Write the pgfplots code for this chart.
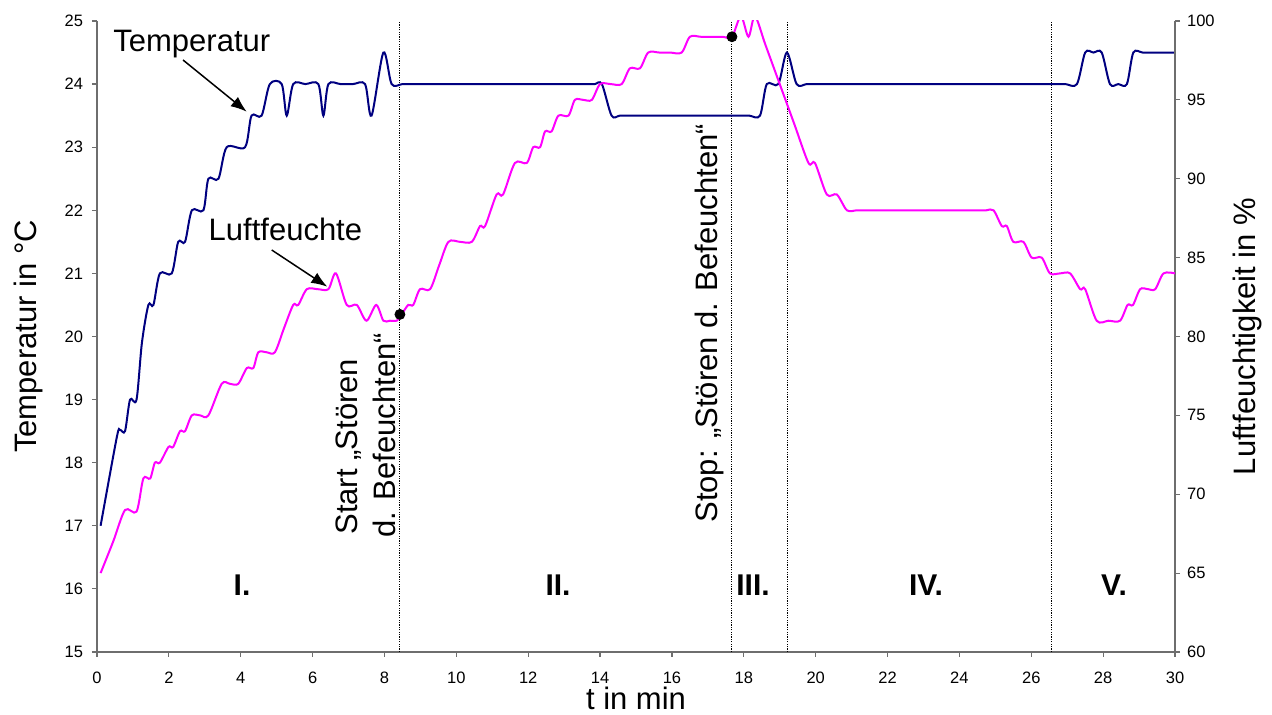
\documentclass[border=0pt]{standalone}
\usepackage{fontspec}
\setmainfont{Liberation Sans}
\usepackage{pgfplots}
\pgfplotsset{compat=1.18}
\usetikzlibrary{arrows.meta}
\definecolor{tblue}{RGB}{0,0,128}
\definecolor{hmag}{RGB}{255,0,255}
\definecolor{axgray}{RGB}{110,110,110}

\begin{document}
\begin{tikzpicture}
\useasboundingbox (-48.5pt,-31.5pt) rectangle (587.5pt,326pt);
\pgfplotsset{
  common/.style={
    scale only axis, width=539pt, height=315.5pt,
    at={(0pt,0pt)}, anchor=south west,
    xmin=0, xmax=30,
    tick align=outside, major tick length=2.5pt,
    tick style={axgray, line width=0.6pt},
    axis line style={axgray, line width=0.75pt},
    tick label style={font=\fontsize{8.25}{9}\selectfont},
    label style={font=\fontsize{15.5}{18}\selectfont},
    /pgf/number format/assume math mode=true,
    clip=true,
  }
}
\begin{axis}[common,
  axis x line*=bottom, axis y line*=left,
  ymin=15, ymax=25,
  xtick={0,2,...,30}, ytick={15,...,25},
  xticklabel style={yshift=-4pt},
  yticklabel style={xshift=-1pt},
  xlabel={t in min}, ylabel={Temperatur in °C},
  xlabel style={at={(axis description cs:0.5,-0.0919)}, anchor=base},
  ylabel style={at={(axis description cs:-0.0557,0.5)}, anchor=base},
]
\addplot[black, dash pattern=on 0.6pt off 0.6pt, line width=0.5pt] coordinates {(8.43,15) (8.43,25)};
\addplot[black, dash pattern=on 0.6pt off 0.6pt, line width=0.5pt] coordinates {(17.67,15) (17.67,25)};
\addplot[black, dash pattern=on 0.6pt off 0.6pt, line width=0.5pt] coordinates {(19.21,15) (19.21,25)};
\addplot[black, dash pattern=on 0.6pt off 0.6pt, line width=0.5pt] coordinates {(26.57,15) (26.57,25)};
\addplot[tblue, line width=1pt, smooth, tension=0.5] coordinates {
(0.10,17.00) (0.55,18.40) (0.64,18.52) (0.78,18.50) (0.92,19.00) (1.10,19.00)
(1.25,19.90) (1.43,20.50) (1.57,20.50) (1.75,21.00) (2.08,21.00) (2.26,21.50)
(2.45,21.50) (2.64,22.00) (2.96,22.00) (3.10,22.50) (3.38,22.50) (3.61,23.00)
(4.12,23.00) (4.30,23.50) (4.58,23.50) (4.81,24.00) (5.14,24.00) (5.28,23.50)
(5.46,24.00) (5.80,24.00) (6.16,24.00) (6.30,23.50) (6.44,24.00) (6.78,24.00)
(7.12,24.00) (7.46,24.00) (7.64,23.50) (7.97,24.50) (8.20,24.00)
(8.50,24.00) (8.80,24.00) (9.10,24.00) (9.40,24.00) (9.70,24.00) (10.00,24.00)
(10.30,24.00) (10.60,24.00) (10.90,24.00) (11.20,24.00) (11.50,24.00) (11.80,24.00)
(12.10,24.00) (12.40,24.00) (12.70,24.00) (13.00,24.00) (13.30,24.00) (13.60,24.00)
(13.85,24.00) (14.05,24.00) (14.32,23.50) (14.55,23.50)
(14.85,23.50) (15.15,23.50) (15.45,23.50) (15.75,23.50) (16.05,23.50) (16.35,23.50)
(16.65,23.50) (16.95,23.50) (17.25,23.50) (17.55,23.50) (17.85,23.50) (18.15,23.50)
(18.45,23.50) (18.64,24.00) (18.96,24.00) (19.20,24.50) (19.47,24.00) (19.75,24.00)
(20.05,24.00) (20.35,24.00) (20.65,24.00) (20.95,24.00) (21.25,24.00) (21.55,24.00)
(21.85,24.00) (22.15,24.00) (22.45,24.00) (22.75,24.00) (23.05,24.00) (23.35,24.00)
(23.65,24.00) (23.95,24.00) (24.25,24.00) (24.55,24.00) (24.85,24.00) (25.15,24.00)
(25.45,24.00) (25.75,24.00) (26.05,24.00) (26.35,24.00) (26.65,24.00) (26.95,24.00)
(27.27,24.00) (27.50,24.50) (27.73,24.50) (27.96,24.50) (28.19,24.00) (28.42,24.00)
(28.66,24.00) (28.84,24.50) (29.10,24.50) (29.40,24.50) (29.70,24.50) (30.00,24.50)
};
\end{axis}
\begin{axis}[common,
  axis x line=none, axis y line*=right,
  ymin=60, ymax=100, ytick={60,65,...,100},
  ylabel={Luftfeuchtigkeit in \%},
  ylabel style={at={(axis description cs:1.0742,0.5)}, anchor=base},
]
\addplot[hmag, line width=1pt, smooth, tension=0.5] coordinates {
(0.10,65.0) (0.45,67.0) (0.78,69.0) (1.10,68.9) (1.29,71.0) (1.48,71.0) (1.61,72.0)
(1.75,72.0) (1.99,73.0) (2.12,73.0) (2.31,74.0) (2.45,74.0) (2.64,75.0)
(2.87,75.0) (3.10,75.0) (3.47,77.0) (3.70,77.0) (3.93,77.0) (4.17,78.0) (4.35,78.0) (4.49,79.0)
(4.72,79.0) (4.95,79.0) (5.20,80.5) (5.46,82.0) (5.60,82.0) (5.84,83.0) (6.14,83.0) (6.44,83.0) (6.65,84.0)
(6.95,82.0) (7.23,82.0) (7.50,81.0) (7.77,82.0) (7.97,81.0) (8.15,81.0) (8.34,81.0)
(8.45,81.3) (8.66,82.0) (8.80,82.0) (8.99,83.0) (9.27,83.0) (9.52,84.5) (9.78,86.0)
(10.10,86.0) (10.43,86.0) (10.66,87.0) (10.80,87.0) (11.12,89.0) (11.30,89.0) (11.63,91.0)
(11.96,91.0) (12.14,92.0) (12.33,92.0) (12.47,93.0) (12.65,93.0) (12.84,94.0)
(13.12,94.0) (13.30,95.0) (13.53,95.0) (13.77,95.0) (14.00,96.0) (14.30,96.0) (14.60,96.0) (14.83,97.0)
(15.11,97.0) (15.34,98.0) (15.65,98.0) (15.95,98.0) (16.27,98.0) (16.50,99.0)
(16.80,99.0) (17.10,99.0) (17.40,99.0) (17.67,99.0) (17.92,100.3)
(18.13,99.0) (18.31,100.3) (18.60,98.5) (19.00,96.0) (19.40,93.5) (19.80,91.0) (19.98,91.0) (20.31,89.0)
(20.59,89.0) (20.87,88.0) (21.15,88.0) (21.45,88.0) (21.75,88.0) (22.05,88.0)
(22.35,88.0) (22.65,88.0) (22.95,88.0) (23.25,88.0) (23.55,88.0) (23.85,88.0)
(24.15,88.0) (24.45,88.0) (24.75,88.0) (24.95,88.0) (25.18,87.0)
(25.32,87.0) (25.50,86.0) (25.78,86.0) (26.01,85.0) (26.29,85.0) (26.52,84.0)
(26.80,84.0) (27.08,84.0) (27.36,83.0) (27.50,83.0) (27.82,81.0) (28.15,81.0) (28.47,81.0) (28.68,82.0)
(28.83,82.0) (29.03,83.0) (29.25,83.0) (29.45,83.0) (29.68,84.0) (30.00,84.0)
};
\addplot[only marks, mark=*, mark size=2.5pt, black, mark options={fill=black}] coordinates {(8.43,81.4) (17.67,99.0)};
\end{axis}
% annotations
\node[anchor=base west, font=\fontsize{15.5}{18}\selectfont, inner sep=0pt] at (8pt,300pt) {Temperatur};
\node[anchor=base west, font=\fontsize{15.5}{18}\selectfont, inner sep=0pt] at (55.65pt,205.65pt) {Luftfeuchte};
\draw[black, line width=0.75pt, -{Latex[length=8pt,width=6pt]}] (43pt,296pt) -- (74.85pt,270.15pt);
\draw[black, line width=0.75pt, -{Latex[length=8pt,width=6pt]}] (87.35pt,201pt) -- (115.15pt,182.65pt);
\node[rotate=90, anchor=base west, font=\fontsize{15.5}{18}\selectfont, inner sep=0pt] at (130pt,58.5pt) {Start „Stören};
\node[rotate=90, anchor=base west, font=\fontsize{15.5}{18}\selectfont, inner sep=0pt] at (149pt,57pt) {d. Befeuchten“};
\node[rotate=90, anchor=base west, font=\fontsize{15.5}{18}\selectfont, inner sep=0pt] at (310pt,64.5pt) {Stop: „Stören d. Befeuchten“};
\foreach \x/\t in {72.5/I., 230.5/II., 328/III., 414.5/IV., 508.5/V.}{
  \node[anchor=base, font=\fontsize{15}{18}\selectfont\bfseries, inner sep=0pt] at (\x pt,28pt) {\t};
}
\end{tikzpicture}
\end{document}
